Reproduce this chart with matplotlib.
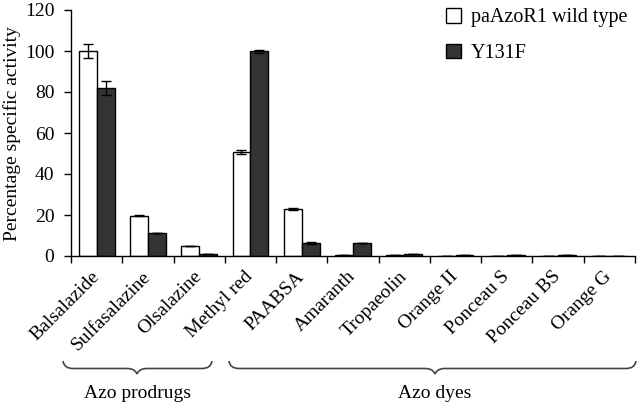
import matplotlib
matplotlib.use("Agg")
import matplotlib.pyplot as plt
import numpy as np
from matplotlib.path import Path
from matplotlib.patches import PathPatch

categories = ["Balsalazide", "Sulfasalazine", "Olsalazine", "Methyl red", "PAABSA",
              "Amaranth", "Tropaeolin", "Orange II", "Ponceau S", "Ponceau BS", "Orange G"]
wild_type = [100, 19.7, 4.8, 50.9, 22.9, 0.5, 0.5, 0.0, 0.0, 0.0, 0.0]
wild_err = [3.4, 0.4, 0.0, 0.9, 0.3, 0.0, 0.0, 0.0, 0.0, 0.0, 0.0]
y131f = [82.0, 11.2, 1.1, 99.8, 6.4, 6.3, 1.0, 0.4, 0.4, 0.4, 0.0]
y131f_err = [3.3, 0.0, 0.0, 0.8, 0.4, 0.0, 0.0, 0.0, 0.0, 0.0, 0.0]
series_labels = ["paAzoR1 wild type", "Y131F"]
group_labels = ["Azo prodrugs", "Azo dyes"]
yticks = [0, 20, 40, 60, 80, 100, 120]

plt.rcParams['font.family'] = ['Liberation Serif', 'DejaVu Serif']
FS = 14

W, H = 640, 405
fig = plt.figure(figsize=(W / 100, H / 100), dpi=100)
ax = fig.add_axes([71 / W, 1 - 256 / H, (635 - 71) / W, (256 - 10) / H])

x = np.arange(len(categories))
bw = 0.35
dark = "#333333"
ax.bar(x - bw / 2, wild_type, bw, color="white", edgecolor="black", linewidth=1.0,
       yerr=wild_err, error_kw=dict(ecolor="black", elinewidth=1.0, capsize=3.5, capthick=1.0),
       label=series_labels[0], zorder=2)
ax.bar(x + bw / 2, y131f, bw, color=dark, edgecolor="black", linewidth=1.0,
       yerr=y131f_err, error_kw=dict(ecolor="black", elinewidth=1.0, capsize=3.5, capthick=1.0),
       label=series_labels[1], zorder=2)

ax.set_xlim(-0.5, len(categories) - 0.5)
ax.set_ylim(0, 120)
ax.set_yticks(yticks)
ax.set_yticklabels([str(v) for v in yticks], fontsize=FS)
ax.set_ylabel("Percentage specific activity", fontsize=FS, va="center")
ax.yaxis.set_label_coords(12 / W, 1 - 134 / H, transform=fig.transFigure)

ax.set_xticks(x)
ax.set_xticklabels(categories, rotation=45, ha="right", va="center",
                   rotation_mode="anchor", fontsize=FS)
ax.tick_params(axis="x", which="major", length=0, pad=13)
ax.set_xticks(np.arange(-0.5, len(categories), 1.0), minor=True)
ax.tick_params(axis="x", which="minor", length=5, width=1.0, direction="out")
ax.tick_params(axis="y", length=5, width=1.0, direction="out", pad=7)

for s in ["top", "right"]:
    ax.spines[s].set_visible(False)
for s in ["left", "bottom"]:
    ax.spines[s].set_linewidth(1.0)

leg = ax.legend(loc="upper left", bbox_to_anchor=(446 / W, 1 - 8 / H),
                bbox_transform=fig.transFigure, frameon=False, fontsize=14.5,
                handlelength=0.75, handleheight=0.75, handletextpad=0.5,
                labelspacing=0.8, borderpad=0, borderaxespad=0)

# overlay in pixel coordinates for group braces
ov = fig.add_axes([0, 0, 1, 1])
ov.set_xlim(0, W)
ov.set_ylim(H, 0)
ov.axis("off")


def brace(x0, x1, xt, ytop, ymid, ybot, r=10):
    verts = [
        (x0, ytop), (x0 + 1, ymid), (x0 + r, ymid),
        (xt - r, ymid),
        (xt - 2, ymid), (xt, ybot),
        (xt + 2, ymid), (xt + r, ymid),
        (x1 - r, ymid),
        (x1 - 1, ymid), (x1, ytop),
    ]
    codes = [Path.MOVETO, Path.CURVE3, Path.CURVE3, Path.LINETO,
             Path.CURVE3, Path.CURVE3, Path.CURVE3, Path.CURVE3,
             Path.LINETO, Path.CURVE3, Path.CURVE3]
    ov.add_patch(PathPatch(Path(verts, codes), fill=False, edgecolor="#444444", lw=1.2))


brace(63, 212, 137, 361, 368.5, 374)
brace(229, 636, 435, 361, 368.5, 374)
ov.text(137, 393, group_labels[0], ha="center", va="center", fontsize=FS)
ov.text(435, 393, group_labels[1], ha="center", va="center", fontsize=FS)

fig.savefig("out.png", dpi=100)
